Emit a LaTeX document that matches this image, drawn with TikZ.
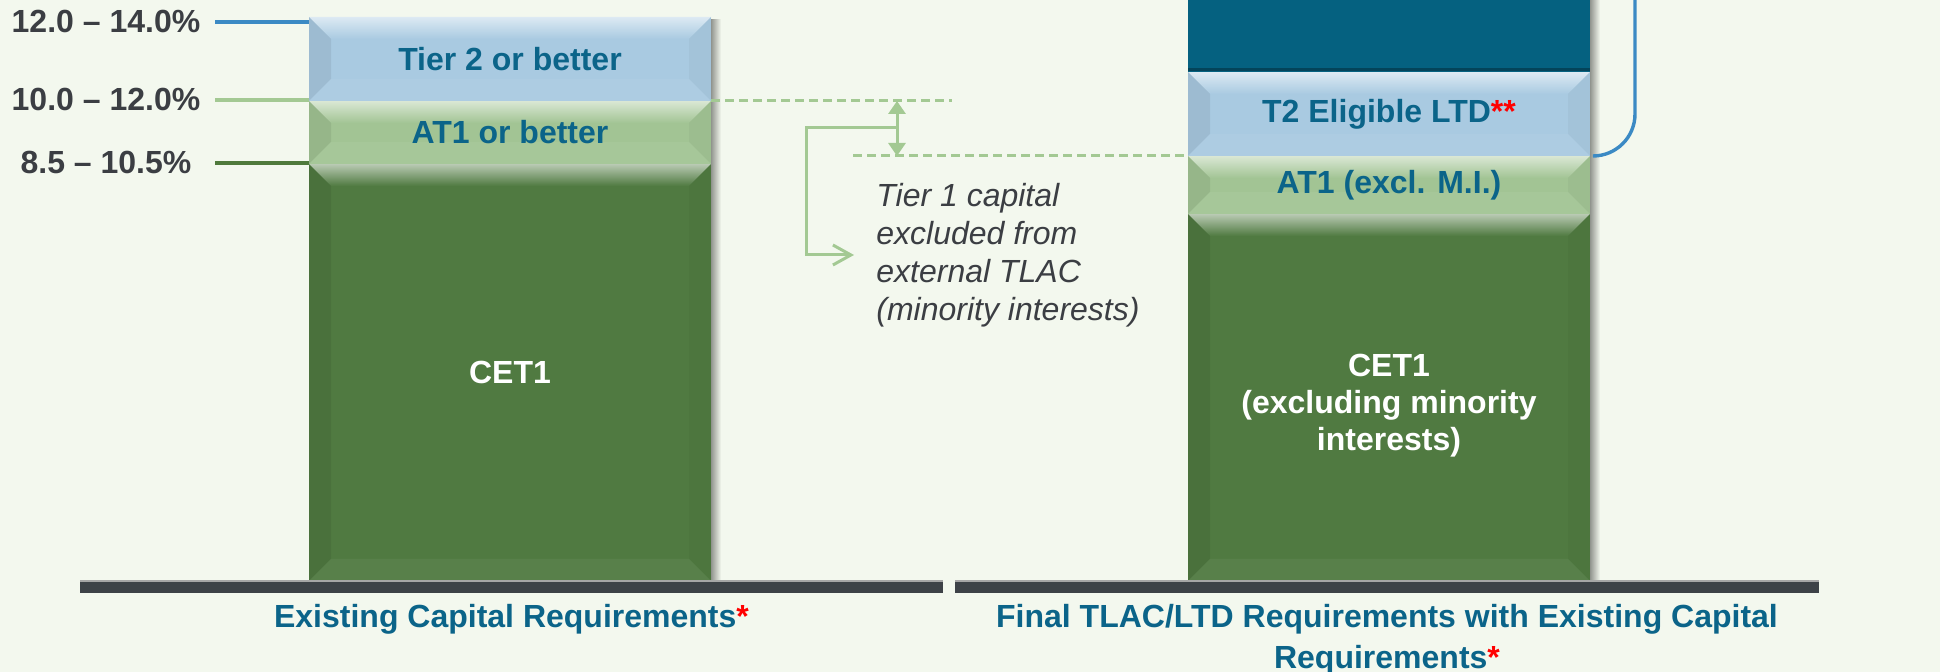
\documentclass[tikz,border=0pt]{standalone}
\usepackage{fontspec}
\setmainfont{Liberation Sans}
\usetikzlibrary{positioning,arrows.meta}

\definecolor{bgc}{HTML}{F3F8EE}
\definecolor{tiertwo}{HTML}{A9CAE1}
\definecolor{atone}{HTML}{A2C494}
\definecolor{cetone}{HTML}{507A41}
\definecolor{ltdblue}{HTML}{056180}
\definecolor{capblue}{HTML}{0B6489}
\definecolor{darkgrey}{HTML}{3B3E43}
\definecolor{basegrey}{HTML}{3D4247}
\definecolor{lineblue}{HTML}{3B8AC4}
\definecolor{linegreen}{HTML}{A3C993}
\definecolor{darkgreen}{HTML}{4F7A3C}

\tikzset{
  seg/.style={anchor=south west, inner sep=0pt, outer sep=0pt, minimum width=201pt,
    fill=#1, text=capblue, align=center, font=\bfseries\fontsize{16}{18.5}\selectfont,
    path picture={
      \coordinate (nw) at (path picture bounding box.north west);
      \coordinate (ne) at (path picture bounding box.north east);
      \coordinate (sw) at (path picture bounding box.south west);
      \coordinate (se) at (path picture bounding box.south east);
      \shade[top color=white!60!#1, bottom color=#1] (nw) -- (ne) -- ([shift={(-11pt,-11pt)}]ne) -- ([shift={(11pt,-11pt)}]nw) -- cycle;
      \fill[black, opacity=0.07] (nw) -- ([shift={(11pt,-11pt)}]nw) -- ([shift={(11pt,11pt)}]sw) -- (sw) -- cycle;
      \fill[black, opacity=0.03] (ne) -- ([shift={(-11pt,-11pt)}]ne) -- ([shift={(-11pt,11pt)}]se) -- (se) -- cycle;
      \fill[white, opacity=0.05] (sw) -- ([shift={(11pt,11pt)}]sw) -- ([shift={(-11pt,11pt)}]se) -- (se) -- cycle;
    }},
  plainseg/.style={anchor=south west, inner sep=0pt, outer sep=0pt, minimum width=201pt, fill=#1},
  segtext/.style={text=white, align=center, font=\bfseries\fontsize{16}{18.5}\selectfont, inner sep=0pt},
  basebar/.style={anchor=south west, fill=basegrey, minimum height=6pt, inner sep=0pt, outer sep=0pt},
  lbl/.style={text=darkgrey, font=\bfseries\fontsize{16}{19}\selectfont, inner sep=0pt},
  tickln/.style={line width=2pt, draw=#1},
  dashln/.style={linegreen, line width=1.5pt, dash pattern=on 4.5pt off 2.5pt},
  arr/.style={linegreen, line width=1.5pt},
  note/.style={text=darkgrey, font=\itshape\fontsize{16}{19}\selectfont, align=left, inner sep=0pt},
  capt/.style={text=capblue, font=\bfseries\fontsize{16}{20.5}\selectfont, align=center, inner sep=0pt}
}

\begin{document}
\begin{tikzpicture}[x=0.5pt,y=0.5pt]
  \fill[bgc] (0,0) rectangle (1940,672);
  \useasboundingbox (0,0) rectangle (1940,672);
  \clip (0,0) rectangle (1940,672);

  % soft shadows right of the bars
  \shade[left color=black!40!bgc, right color=bgc] (711,88) rectangle (721,652);
  \shade[left color=black!40!bgc, right color=bgc] (1590,88) rectangle (1600,672);

  % existing capital requirements
  \node[seg=cetone, minimum height=208.5pt, text=white] (cetL) at (309,91) {CET1};
  \node[seg=atone, minimum height=31.5pt] (atL) at (309,508) {AT1 or better};
  \node[seg=tiertwo, minimum height=42pt] (ttL) at (309,571) {Tier 2 or better};

  % final TLAC/LTD requirements
  \node[seg=cetone, minimum height=183.5pt] (cetR) at (1188,91) {};
  \node[segtext, yshift=-4pt] (cetRtxt) at (cetR.center) {CET1\\(excluding minority\\interests)};
  \node[seg=atone, minimum height=29pt] (atR) at (1188,458) {AT1 (excl. M.I.)};
  \node[seg=tiertwo, minimum height=42pt] (ttR) at (1188,516) {T2 Eligible LTD\textcolor{red}{**}};
  \node[plainseg=ltdblue, minimum height=50pt] (topR) at (1188,600) {};
  \draw[ltdblue!70!black, line width=1.5pt] ([yshift=1pt]topR.south west) -- ([yshift=1pt]topR.south east);

  % base lines
  \node[basebar, minimum width=431.5pt] (baseL) at (80,79) {};
  \node[basebar, minimum width=432pt] (baseR) at (955,79) {};
  \draw[gray!70, line width=0.6pt] (baseL.north west) -- (baseL.north east);
  \draw[gray!70, line width=0.6pt] (baseR.north west) -- (baseR.north east);

  % percentage levels
  \node[lbl] (pctA) at (106,650) {12.0 – 14.0\%};
  \node[lbl] (pctB) at (106,572) {10.0 – 12.0\%};
  \node[lbl] (pctC) at (106,509) {8.5 – 10.5\%};
  \coordinate (tk) at (215,0);
  \draw[tickln=lineblue] (pctA -| tk) -- (pctA -| ttL.west);
  \draw[tickln=linegreen] (pctB -| tk) -- (pctB -| ttL.west);
  \draw[tickln=darkgreen] (pctC -| tk) -- (pctC -| ttL.west);

  % minority interests gap
  \coordinate (dA) at (952,571);
  \coordinate (dB) at (853,516);
  \draw[dashln] (atL.north east) -- (dA);
  \draw[dashln] (dB) -- (atR.north west);
  \coordinate (ua) at (897,571);
  \coordinate (ub) at (897,516);
  \draw[arr, {Triangle[width=8.5pt,length=6.5pt]}-{Triangle[width=8.5pt,length=6.5pt]}] (ua) -- (ub);
  \node[note, anchor=west] (exnote) at (876,417) {Tier 1 capital\\excluded from\\external TLAC\\(minority interests)};
  \coordinate (mi) at (897,544);
  \coordinate (elb) at (806,544);
  \draw[arr, -{Straight Barb[length=9pt,width=10pt]}] (mi) -- (elb) |- ([xshift=-11pt]exnote.west);

  % bracket
  \coordinate (brk) at (1635,700);
  \draw[lineblue, line width=1.7pt, rounded corners=21pt] ([xshift=2pt]ttR.south east) -| (brk);

  % captions
  \node[capt, below=5.5pt of baseL] (capL) {Existing Capital Requirements\textcolor{red}{*}};
  \node[capt, below=5.5pt of baseR] (capR) {Final TLAC/LTD Requirements with Existing Capital\\Requirements\textcolor{red}{*}};
\end{tikzpicture}
\end{document}
